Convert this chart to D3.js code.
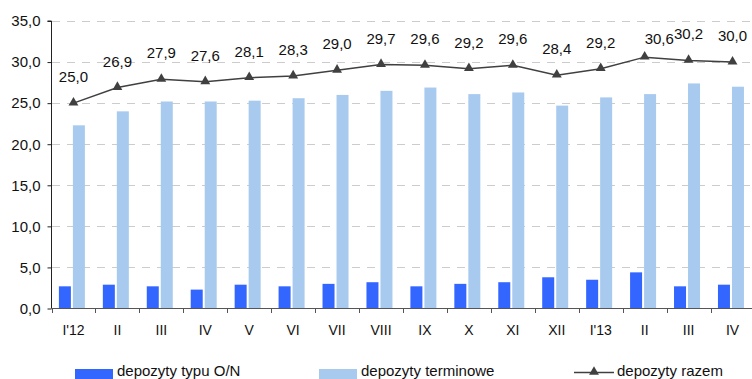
<!DOCTYPE html>
<html>
<head>
<meta charset="utf-8">
<script src="https://cdn.jsdelivr.net/npm/d3@7"></script>
<style>
  html, body { margin: 0; padding: 0; background: #fff; }
  svg { display: block; font-family: "Liberation Sans", Arial, sans-serif; }
</style>
</head>
<body>
<svg id="chart" width="752" height="379"></svg>
<script>
// Monthly deposits (bn), Jan 2012 – Apr 2013
const months = ["I'12", "II", "III", "IV", "V", "VI", "VII", "VIII", "IX", "X", "XI", "XII", "I'13", "II", "III", "IV"];
const overnight = [2.7, 2.9, 2.7, 2.3, 2.9, 2.7, 3.0, 3.2, 2.7, 3.0, 3.2, 3.8, 3.5, 4.4, 2.7, 2.9];
const term = [22.3, 24.0, 25.2, 25.2, 25.3, 25.6, 26.0, 26.5, 26.9, 26.1, 26.3, 24.7, 25.7, 26.1, 27.4, 27.0];
const total = [25.0, 26.9, 27.9, 27.6, 28.1, 28.3, 29.0, 29.7, 29.6, 29.2, 29.6, 28.4, 29.2, 30.6, 30.2, 30.0];
const yTicks = [0, 5, 10, 15, 20, 25, 30, 35];
const seriesNames = ["depozyty typu O/N", "depozyty terminowe", "depozyty razem"];

const colorON = "#3366ff";
const colorTerm = "#a9caef";
const colorLine = "#404040";

const svg = d3.select("#chart");
const fmt = v => d3.format(".1f")(v).replace(".", ",");

const x = d3.scaleBand().domain(months.map((m, i) => i)).range([51.5, 754.5]).padding(0);
const inner = d3.scaleBand().domain(["on", "term"]).range([7.4, 33.4]).paddingInner(1 / 7).paddingOuter(0);
const y = d3.scaleLinear().domain([0, 35]).range([308.5, 21]);

// dashed horizontal gridlines
svg.append("g")
  .selectAll("line")
  .data(yTicks.filter(v => v > 0))
  .join("line")
  .attr("x1", 52).attr("x2", 752)
  .attr("y1", d => Math.round(y(d)) + 0.5).attr("y2", d => Math.round(y(d)) + 0.5)
  .attr("stroke", "#cccccc").attr("stroke-width", 1)
  .attr("stroke-dasharray", "8,7");

// y axis
const yAxis = d3.axisLeft(y).tickValues(yTicks).tickFormat(fmt).tickSize(4).tickPadding(7);
const gy = svg.append("g").attr("transform", "translate(51.5,0)").call(yAxis);
gy.select(".domain").attr("stroke", "#222").attr("d", `M-4,${y(35)}H0V${y(0)}`);
gy.selectAll(".tick line").attr("stroke", "#222");
gy.selectAll(".tick text").attr("font-size", 15).attr("fill", "#111")
  .attr("font-family", "Liberation Sans, Arial, sans-serif");

// bars
const groups = svg.append("g").selectAll("g")
  .data(months.map((m, i) => i))
  .join("g")
  .attr("transform", i => `translate(${x(i)},0)`);

groups.append("rect")
  .attr("x", inner("on")).attr("width", inner.bandwidth())
  .attr("y", i => y(overnight[i])).attr("height", i => y(0) - y(overnight[i]))
  .attr("fill", colorON);

groups.append("rect")
  .attr("x", inner("term")).attr("width", inner.bandwidth())
  .attr("y", i => y(term[i])).attr("height", i => y(0) - y(term[i]))
  .attr("fill", colorTerm);

// x axis with ticks at category boundaries
const gx = svg.append("g");
gx.append("line")
  .attr("x1", 51.5).attr("x2", 752).attr("y1", 308.5).attr("y2", 308.5)
  .attr("stroke", "#555").attr("stroke-width", 1.2);
gx.selectAll("line.tk")
  .data(months.map((m, i) => i))
  .join("line").attr("class", "tk")
  .attr("x1", i => Math.round(x(i)) + 0.5).attr("x2", i => Math.round(x(i)) + 0.5)
  .attr("y1", 308.5).attr("y2", 313)
  .attr("stroke", "#555");
gx.selectAll("text")
  .data(months)
  .join("text")
  .attr("x", (m, i) => x(i) + x.bandwidth() / 2)
  .attr("y", 335)
  .attr("text-anchor", "middle")
  .attr("font-size", 14).attr("fill", "#111")
  .text(d => d);

// total line with triangle markers
const cx = i => x(i) + x.bandwidth() / 2;
svg.append("path")
  .datum(total)
  .attr("fill", "none").attr("stroke", colorLine).attr("stroke-width", 1.5)
  .attr("d", d3.line().x((d, i) => cx(i)).y(d => y(d)));

const tri = d3.symbol().type(d3.symbolTriangle).size(42);
svg.append("g").selectAll("path")
  .data(total)
  .join("path")
  .attr("transform", (d, i) => `translate(${cx(i)},${y(d) - 0.5})`)
  .attr("d", tri)
  .attr("fill", colorLine);

// value labels; the peak's label sits beside its point to clear its neighbour
const peak = total.indexOf(d3.max(total));
svg.append("g").selectAll("text")
  .data(total)
  .join("text")
  .attr("x", (d, i) => cx(i))
  .attr("y", (d, i) => i === peak ? y(d) - 13 : y(d) - 21)
  .attr("text-anchor", (d, i) => i === peak ? "start" : "middle")
  .attr("font-size", 15).attr("fill", "#111")
  .text(d => fmt(d));

// legend
const legend = svg.append("g").attr("font-size", 15).attr("fill", "#111");
legend.append("rect").attr("x", 75).attr("y", 369).attr("width", 38).attr("height", 10).attr("fill", colorON);
legend.append("text").attr("x", 117).attr("y", 375.5).text(seriesNames[0]);
legend.append("rect").attr("x", 319).attr("y", 369).attr("width", 38).attr("height", 10).attr("fill", colorTerm);
legend.append("text").attr("x", 361).attr("y", 375.5).text(seriesNames[1]);
legend.append("line").attr("x1", 574).attr("x2", 614).attr("y1", 372.5).attr("y2", 372.5)
  .attr("stroke", colorLine).attr("stroke-width", 1.5);
legend.append("path").attr("transform", "translate(594,372)").attr("d", tri).attr("fill", colorLine);
legend.append("text").attr("x", 617).attr("y", 375.5).text(seriesNames[2]);
</script>
</body>
</html>
